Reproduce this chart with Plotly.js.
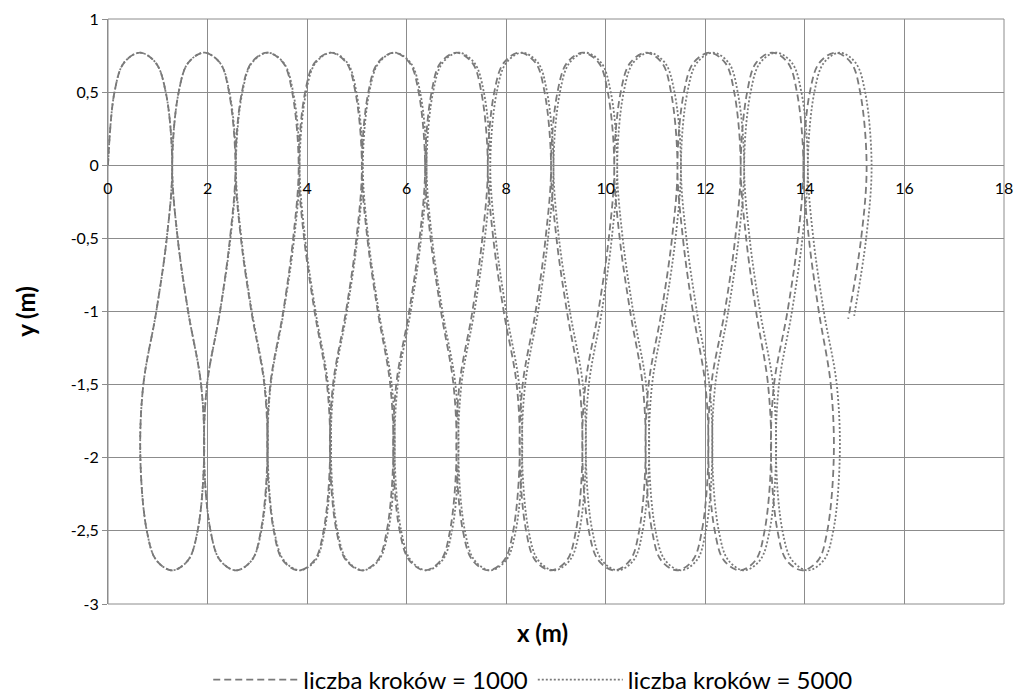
<!DOCTYPE html>
<html>
<head>
<meta charset="utf-8">
<script src="https://cdn.plot.ly/plotly-3.0.1.min.js"></script>
<style>html,body{margin:0;padding:0;background:#fff;}#chart{width:1014px;height:693px;}</style>
</head>
<body>
<div id="chart"></div>
<script>
// Series names
var seriesNames = ['liczba kroków = 1000', 'liczba kroków = 5000'];

// Trajectory: liczba kroków = 1000 (dashed)
var xSteps1000 = [
  0,0.13,0.32,0.64,0.96,1.16,1.29,1.18,0.97,0.71,0.65,0.78,0.97,1.29,1.61,1.80,1.93,1.87,1.61,1.40,
  1.29,1.42,1.61,1.93,2.25,2.43,2.56,2.45,2.25,1.99,1.93,2.06,2.25,2.57,2.89,3.07,3.20,3.14,2.88,2.67,
  2.56,2.69,2.88,3.20,3.52,3.70,3.83,3.72,3.52,3.26,3.20,3.33,3.51,3.83,4.15,4.33,4.46,4.40,4.15,3.94,
  3.83,3.96,4.15,4.47,4.79,4.97,5.10,4.99,4.78,4.52,4.46,4.59,4.78,5.10,5.42,5.60,5.73,5.67,5.42,5.21,
  5.10,5.23,5.42,5.74,6.06,6.24,6.37,6.26,6.05,5.79,5.73,5.86,6.05,6.37,6.69,6.87,7.00,6.94,6.69,6.48,
  6.37,6.50,6.68,7.00,7.32,7.50,7.63,7.52,7.32,7.06,7.00,7.13,7.32,7.64,7.96,8.14,8.27,8.21,7.95,7.74,
  7.63,7.76,7.95,8.27,8.59,8.77,8.90,8.79,8.59,8.33,8.27,8.40,8.58,8.90,9.22,9.40,9.53,9.47,9.22,9.01,
  8.90,9.03,9.22,9.54,9.86,10.04,10.17,10.06,9.85,9.59,9.53,9.66,9.85,10.17,10.49,10.67,10.80,10.74,10.49,10.28,
  10.17,10.30,10.49,10.81,11.13,11.31,11.44,11.33,11.12,10.86,10.80,10.93,11.11,11.43,11.75,11.93,12.06,12.00,11.75,11.55,
  11.44,11.57,11.76,12.08,12.40,12.58,12.71,12.60,12.39,12.12,12.06,12.19,12.37,12.69,13.01,13.19,13.32,13.26,13.02,12.82,
  12.71,12.84,13.02,13.34,13.66,13.84,13.97,13.86,13.65,13.38,13.32,13.45,13.63,13.95,14.27,14.45,14.58,14.52,14.28,14.08,
  13.97,14.10,14.29,14.61,14.93,15.11,15.24,15.13,14.87
];
var ySteps1000 = [
  0,0.5,0.7,0.77,0.7,0.5,0,-0.5,-1,-1.5,-2,-2.5,-2.7,-2.77,-2.7,-2.5,-2,-1.5,-1,-0.5,
  0,0.5,0.7,0.77,0.7,0.5,0,-0.5,-1,-1.5,-2,-2.5,-2.7,-2.77,-2.7,-2.5,-2,-1.5,-1,-0.5,
  0,0.5,0.7,0.77,0.7,0.5,0,-0.5,-1,-1.5,-2,-2.5,-2.7,-2.77,-2.7,-2.5,-2,-1.5,-1,-0.5,
  0,0.5,0.7,0.77,0.7,0.5,0,-0.5,-1,-1.5,-2,-2.5,-2.7,-2.77,-2.7,-2.5,-2,-1.5,-1,-0.5,
  0,0.5,0.7,0.77,0.7,0.5,0,-0.5,-1,-1.5,-2,-2.5,-2.7,-2.77,-2.7,-2.5,-2,-1.5,-1,-0.5,
  0,0.5,0.7,0.77,0.7,0.5,0,-0.5,-1,-1.5,-2,-2.5,-2.7,-2.77,-2.7,-2.5,-2,-1.5,-1,-0.5,
  0,0.5,0.7,0.77,0.7,0.5,0,-0.5,-1,-1.5,-2,-2.5,-2.7,-2.77,-2.7,-2.5,-2,-1.5,-1,-0.5,
  0,0.5,0.7,0.77,0.7,0.5,0,-0.5,-1,-1.5,-2,-2.5,-2.7,-2.77,-2.7,-2.5,-2,-1.5,-1,-0.5,
  0,0.5,0.7,0.77,0.7,0.5,0,-0.5,-1,-1.5,-2,-2.5,-2.7,-2.77,-2.7,-2.5,-2,-1.5,-1,-0.5,
  0,0.5,0.7,0.77,0.7,0.5,0,-0.5,-1,-1.5,-2,-2.5,-2.7,-2.77,-2.7,-2.5,-2,-1.5,-1,-0.5,
  0,0.5,0.7,0.77,0.7,0.5,0,-0.5,-1,-1.5,-2,-2.5,-2.7,-2.77,-2.7,-2.5,-2,-1.5,-1,-0.5,
  0,0.5,0.7,0.77,0.7,0.5,0,-0.5,-1.05
];

// Trajectory: liczba kroków = 5000 (dotted)
var xSteps5000 = [
  0,0.13,0.32,0.64,0.96,1.16,1.29,1.18,0.97,0.71,0.65,0.78,0.97,1.29,1.61,1.80,1.93,1.87,1.61,1.40,
  1.29,1.42,1.61,1.93,2.25,2.44,2.57,2.46,2.25,1.99,1.93,2.06,2.25,2.57,2.89,3.08,3.21,3.15,2.89,2.68,
  2.57,2.70,2.89,3.21,3.53,3.72,3.85,3.74,3.53,3.27,3.21,3.34,3.53,3.85,4.17,4.35,4.48,4.42,4.17,3.96,
  3.85,3.98,4.17,4.49,4.81,4.99,5.12,5.01,4.80,4.54,4.48,4.61,4.80,5.12,5.44,5.63,5.76,5.70,5.44,5.23,
  5.12,5.25,5.44,5.76,6.08,6.27,6.40,6.29,6.08,5.82,5.76,5.89,6.08,6.40,6.72,6.91,7.04,6.98,6.72,6.51,
  6.40,6.53,6.72,7.04,7.36,7.55,7.68,7.57,7.36,7.10,7.04,7.17,7.36,7.68,8.00,8.19,8.32,8.26,8.00,7.79,
  7.68,7.81,8.00,8.32,8.64,8.82,8.95,8.84,8.64,8.38,8.32,8.45,8.64,8.96,9.28,9.47,9.60,9.54,9.28,9.06,
  8.95,9.08,9.27,9.59,9.91,10.10,10.23,10.12,9.92,9.66,9.60,9.73,9.92,10.24,10.56,10.74,10.87,10.81,10.55,10.34,
  10.23,10.36,10.55,10.87,11.19,11.38,11.51,11.40,11.19,10.93,10.87,11.00,11.19,11.51,11.83,12.01,12.14,12.08,11.83,11.62,
  11.51,11.64,11.83,12.15,12.47,12.65,12.78,12.67,12.46,12.20,12.14,12.27,12.46,12.78,13.10,13.29,13.42,13.36,13.10,12.89,
  12.78,12.91,13.10,13.42,13.74,13.93,14.06,13.95,13.74,13.48,13.42,13.55,13.74,14.06,14.38,14.57,14.70,14.64,14.38,14.17,
  14.06,14.19,14.38,14.70,15.02,15.21,15.34,15.23,14.99
];
var ySteps5000 = [
  0,0.5,0.7,0.77,0.7,0.5,0,-0.5,-1,-1.5,-2,-2.5,-2.7,-2.77,-2.7,-2.5,-2,-1.5,-1,-0.5,
  0,0.5,0.7,0.77,0.7,0.5,0,-0.5,-1,-1.5,-2,-2.5,-2.7,-2.77,-2.7,-2.5,-2,-1.5,-1,-0.5,
  0,0.5,0.7,0.77,0.7,0.5,0,-0.5,-1,-1.5,-2,-2.5,-2.7,-2.77,-2.7,-2.5,-2,-1.5,-1,-0.5,
  0,0.5,0.7,0.77,0.7,0.5,0,-0.5,-1,-1.5,-2,-2.5,-2.7,-2.77,-2.7,-2.5,-2,-1.5,-1,-0.5,
  0,0.5,0.7,0.77,0.7,0.5,0,-0.5,-1,-1.5,-2,-2.5,-2.7,-2.77,-2.7,-2.5,-2,-1.5,-1,-0.5,
  0,0.5,0.7,0.77,0.7,0.5,0,-0.5,-1,-1.5,-2,-2.5,-2.7,-2.77,-2.7,-2.5,-2,-1.5,-1,-0.5,
  0,0.5,0.7,0.77,0.7,0.5,0,-0.5,-1,-1.5,-2,-2.5,-2.7,-2.77,-2.7,-2.5,-2,-1.5,-1,-0.5,
  0,0.5,0.7,0.77,0.7,0.5,0,-0.5,-1,-1.5,-2,-2.5,-2.7,-2.77,-2.7,-2.5,-2,-1.5,-1,-0.5,
  0,0.5,0.7,0.77,0.7,0.5,0,-0.5,-1,-1.5,-2,-2.5,-2.7,-2.77,-2.7,-2.5,-2,-1.5,-1,-0.5,
  0,0.5,0.7,0.77,0.7,0.5,0,-0.5,-1,-1.5,-2,-2.5,-2.7,-2.77,-2.7,-2.5,-2,-1.5,-1,-0.5,
  0,0.5,0.7,0.77,0.7,0.5,0,-0.5,-1,-1.5,-2,-2.5,-2.7,-2.77,-2.7,-2.5,-2,-1.5,-1,-0.5,
  0,0.5,0.7,0.77,0.7,0.5,0,-0.5,-1.03
];

// Tick labels
var xTickVals = [0,2,4,6,8,10,12,14,16,18];
var xTickText = ['0','2','4','6','8','10','12','14','16','18'];
var yTickVals = [-3,-2.5,-2,-1.5,-1,-0.5,0,0.5,1];
var yTickText = ['-3','-2,5','-2','-1,5','-1','-0,5','0','0,5','1'];

var FONT = 'Lato, "Open Sans", "Liberation Sans", sans-serif';
var GRID = '#8c8c8c';
var LINE = '#7a7a7a';

var traces = [
  {
    x: xSteps1000, y: ySteps1000, name: seriesNames[0],
    type: 'scatter', mode: 'lines',
    line: {color: LINE, width: 1.8, dash: '7px,4px', shape: 'spline', smoothing: 1}
  },
  {
    x: xSteps5000, y: ySteps5000, name: seriesNames[1],
    type: 'scatter', mode: 'lines',
    line: {color: LINE, width: 1.8, dash: '2px,2px', shape: 'spline', smoothing: 1}
  }
];

var layout = {
  width: 1014, height: 693,
  margin: {l: 108, r: 10, t: 19, b: 89, autoexpand: false},
  paper_bgcolor: '#ffffff', plot_bgcolor: '#ffffff',
  font: {family: FONT, color: '#000000', size: 16},
  showlegend: true,
  xaxis: {
    range: [0, 18], anchor: 'free', position: 0.75,
    tickvals: xTickVals, ticktext: xTickText,
    ticks: 'outside', ticklen: 9, tickcolor: 'rgba(0,0,0,0)',
    tickfont: {family: FONT, size: 16, color: '#000'},
    showgrid: true, gridcolor: GRID, gridwidth: 1,
    zeroline: false, showline: true, linecolor: GRID, linewidth: 1,
    automargin: false
  },
  yaxis: {
    range: [-3, 1], anchor: 'x',
    tickvals: yTickVals, ticktext: yTickText,
    ticks: 'outside', ticklen: 5, tickcolor: GRID, tickwidth: 1,
    tickfont: {family: FONT, size: 16, color: '#000'},
    showgrid: true, gridcolor: GRID, gridwidth: 1,
    zeroline: false, showline: true, linecolor: GRID, linewidth: 1,
    title: {text: '<b>y (m)</b>', font: {family: FONT, size: 24, color: '#000'}, standoff: 28},
    automargin: false
  },
  shapes: [
    {type: 'rect', xref: 'paper', yref: 'paper', x0: 0, x1: 1, y0: 0, y1: 1,
     line: {color: GRID, width: 1}, fillcolor: 'rgba(0,0,0,0)', layer: 'below'}
  ],
  annotations: [
    {text: '<b>x (m)</b>', xref: 'paper', yref: 'paper', x: 0.485, y: -0.049,
     xanchor: 'center', yanchor: 'middle', showarrow: false,
     font: {family: FONT, size: 24, color: '#000'}}
  ],
  legend: {
    orientation: 'h', x: 0.4746, xanchor: 'center', y: -0.13, yanchor: 'middle',
    font: {family: FONT, size: 24, color: '#000'},
    itemwidth: 85, bgcolor: 'rgba(0,0,0,0)', traceorder: 'normal'
  }
};

Plotly.newPlot('chart', traces, layout, {displayModeBar: false, staticPlot: true});
</script>
</body>
</html>
